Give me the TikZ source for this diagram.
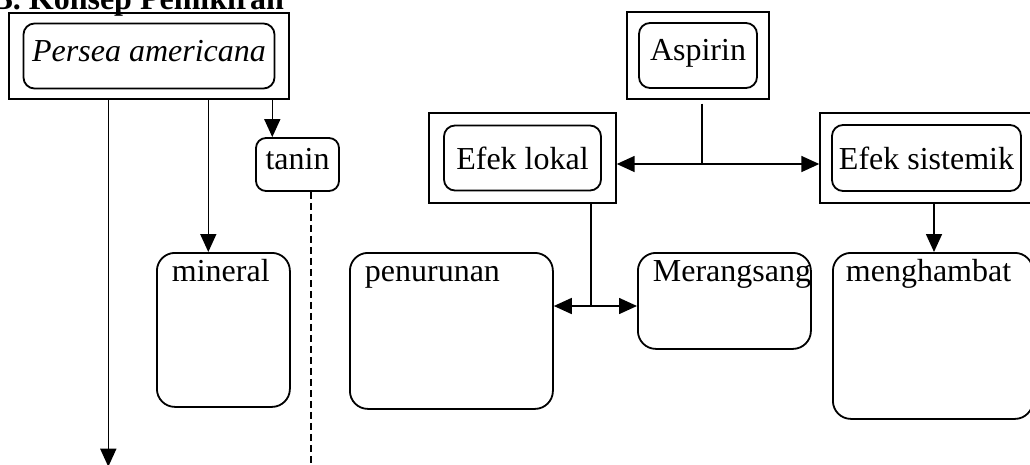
\documentclass[tikz,border=0pt]{standalone}
\usepackage{fontspec}
\setmainfont{Liberation Serif}
\usetikzlibrary{arrows.meta}

\tikzset{
  luar/.style={draw, line width=1.4pt, inner sep=0pt},
  dalam/.style={draw, line width=1.8pt, rounded corners=11pt, inner sep=0pt, text height=22pt, text depth=12pt},
  isi/.style={draw, line width=1.8pt, rounded corners=18pt, anchor=north west, inner xsep=15pt, inner ysep=0pt, align=left, text height=29pt},
  panah/.style={-{Triangle[length=18pt,width=16pt]}, line width=1.6pt},
  garis/.style={line width=1.6pt},
}

\begin{document}
\begin{tikzpicture}[x=1pt, y=-1pt, font=\fontsize{32}{38}\selectfont]
    \useasboundingbox (0,0) rectangle (1030,464);
    \clip (0,0) rectangle (1030,464);

    % Judul
    \node[anchor=base west, font=\fontsize{32}{38}\selectfont\bfseries] (judul) at (-12,9) {B. Konsep Pemikiran};

    % Kotak ganda: kotak luar dan kotak sudut bulat
    \node[luar, minimum width=280pt, minimum height=86pt] (perseaL) at (149,56) {};
    \node[dalam, minimum width=251pt, minimum height=65pt] (persea) at (perseaL) {\textit{Persea americana}};

    \node[luar, minimum width=142pt, minimum height=87pt] (aspirinL) at (698,55.5) {};
    \node[dalam, minimum width=118pt, minimum height=65pt] (aspirin) at (aspirinL) {Aspirin};

    \node[luar, minimum width=187pt, minimum height=90pt] (lokalL) at (522.5,158) {};
    \node[dalam, minimum width=157pt, minimum height=65pt, text depth=0pt] (lokal) at (lokalL) {Efek lokal};

    \node[luar, minimum width=213pt, minimum height=90pt] (sistemikL) at (926.5,158) {};
    \node[dalam, minimum width=189pt, minimum height=66pt, text depth=0pt] (sistemik) at (sistemikL) {Efek sistemik};

    \node[dalam, rounded corners=10pt, minimum width=83pt, minimum height=53pt] (tanin) at (297.5,164.5) {tanin};

    % Kotak isi
    \node[isi, text width=103pt, text depth=125pt] (mineral) at (156,252) {mineral};
    \node[isi, text width=173pt, text depth=127pt] (penurunan) at (349,252) {penurunan};
    \node[isi, text width=143pt, text depth=67pt] (merangsang) at (637,252) {Merangsang};
    \node[isi, inner xsep=13pt, text width=174pt, text depth=137pt] (menghambat) at (832,252) {menghambat};

    % Panah dari Persea americana
    \draw[panah] ([xshift=100pt]perseaL.south west) -- ++(0,367);
    \coordinate (p2) at ([xshift=200pt]perseaL.south west);
    \draw[panah] (p2) -- (p2 |- mineral.north);
    \coordinate (p3) at ([xshift=264pt]perseaL.south west);
    \draw[panah] (p3) -- (p3 |- tanin.north);
    \draw[line width=1.4pt, dash pattern=on 7pt off 4pt] ([xshift=13.5pt]tanin.south) -- ++(0,280);

    % Aspirin ke efek lokal dan efek sistemik
    \coordinate (cabang) at (702,164);
    \coordinate (a1) at (aspirinL.south -| cabang);
    \draw[garis] ([yshift=-4pt]a1) -- (cabang);
    \draw[panah] (cabang) -- (lokalL.east |- cabang);
    \draw[panah] (cabang) -- (sistemikL.west |- cabang);

    % Efek lokal ke penurunan dan Merangsang
    \coordinate (cabang2) at (591,306);
    \draw[garis] (lokalL.south -| cabang2) -- (cabang2);
    \draw[panah] (cabang2) -- (penurunan.east |- cabang2);
    \draw[panah] (cabang2) -- (merangsang.west |- cabang2);

    % Efek sistemik ke menghambat
    \coordinate (s1) at ([xshift=7.5pt]sistemikL.south);
    \draw[panah] (s1) -- (s1 |- menghambat.north);
\end{tikzpicture}
\end{document}
